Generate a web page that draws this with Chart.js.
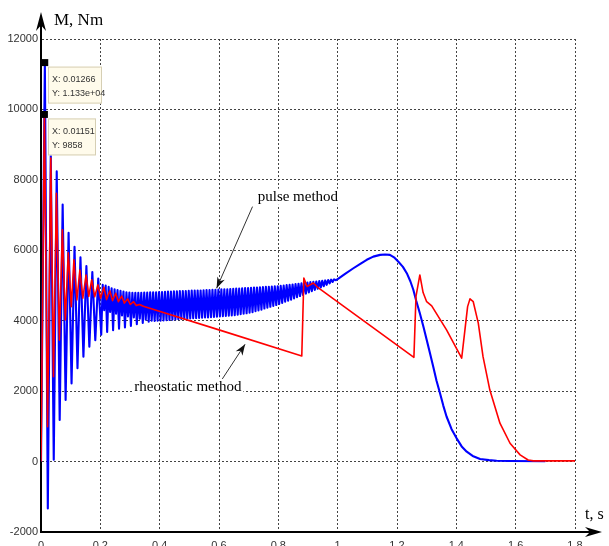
<!DOCTYPE html>
<html>
<head>
<meta charset="utf-8">
<script src="https://cdn.jsdelivr.net/npm/chart.js@4.4.1/dist/chart.umd.min.js"></script>
<style>
  html, body { margin: 0; padding: 0; background: #fff; }
  canvas { display: block; }
</style>
</head>
<body>
<canvas id="grafica" width="609" height="546"></canvas>
<script>
// time axis (s) and torque axis (N·m)
const tTicks = [0, 0.2, 0.4, 0.6, 0.8, 1, 1.2, 1.4, 1.6, 1.8];
const tLabels = ["0", "0.2", "0.4", "0.6", "0.8", "1", "1.2", "1.4", "1.6", "1.8"];
const mTicks = [-2000, 0, 2000, 4000, 6000, 8000, 10000, 12000];
const mLabels = ["-2000", "0", "2000", "4000", "6000", "8000", "10000", "12000"];

// pulse method, [t, M]
const pulse = [
  [0, 0], [0.013, 11330], [0.023, -1330], [0.033, 8700], [0.043, 50],
  [0.053, 8240], [0.063, 1180], [0.073, 7300], [0.083, 1750], [0.093, 6500],
  [0.103, 2220], [0.113, 6100], [0.123, 2650], [0.133, 5800], [0.143, 2980],
  [0.153, 5550], [0.163, 3260], [0.173, 5380], [0.183, 3450], [0.193, 5200],
  [0.203, 3600], [0.208, 5020], [0.213, 4300], [0.218, 5000], [0.223, 3680],
  [0.228, 4960], [0.233, 4250], [0.238, 4920], [0.243, 3730], [0.248, 4890],
  [0.253, 4200], [0.258, 4870], [0.263, 3770], [0.268, 4850], [0.273, 4150],
  [0.278, 4830], [0.283, 3810], [0.288, 4810], [0.293, 4120], [0.298, 4800],
  [0.303, 3850], [0.308, 4790], [0.313, 4090], [0.318, 4790], [0.323, 3900],
  [0.328, 4790], [0.333, 4060], [0.338, 4795], [0.343, 3940], [0.348, 4800],
  [0.353, 4030], [0.358, 4800], [0.363, 3970], [0.368, 4805], [0.373, 4000],
  [0.378, 4805], [0.383, 3990], [0.388, 4810], [0.393, 4000], [0.398, 4815],
  [0.403, 4000], [0.408, 4815], [0.413, 4010], [0.418, 4820], [0.423, 4015],
  [0.428, 4825], [0.433, 4020], [0.438, 4830], [0.443, 4030], [0.448, 4835],
  [0.453, 4035], [0.458, 4835], [0.463, 4040], [0.468, 4840], [0.473, 4050],
  [0.478, 4845], [0.483, 4055], [0.488, 4845], [0.493, 4060], [0.498, 4850],
  [0.503, 4065], [0.508, 4855], [0.513, 4070], [0.518, 4855], [0.523, 4075],
  [0.528, 4860], [0.533, 4080], [0.538, 4860], [0.543, 4085], [0.548, 4865],
  [0.553, 4090], [0.558, 4870], [0.563, 4095], [0.568, 4870], [0.573, 4100],
  [0.578, 4875], [0.583, 4110], [0.588, 4880], [0.593, 4115], [0.598, 4885],
  [0.603, 4120], [0.608, 4890], [0.613, 4125], [0.618, 4895], [0.623, 4135],
  [0.628, 4895], [0.633, 4145], [0.638, 4900], [0.643, 4150], [0.648, 4905],
  [0.653, 4160], [0.658, 4910], [0.663, 4170], [0.668, 4915], [0.673, 4185],
  [0.678, 4920], [0.683, 4200], [0.688, 4925], [0.693, 4210], [0.698, 4930],
  [0.703, 4225], [0.708, 4935], [0.713, 4245], [0.718, 4940], [0.723, 4270],
  [0.728, 4945], [0.733, 4290], [0.738, 4950], [0.743, 4315], [0.748, 4955],
  [0.753, 4345], [0.758, 4960], [0.763, 4370], [0.768, 4965], [0.773, 4395],
  [0.778, 4970], [0.783, 4420], [0.788, 4975], [0.793, 4445], [0.798, 4980],
  [0.803, 4475], [0.808, 4990], [0.813, 4505], [0.818, 5000], [0.823, 4540],
  [0.828, 5010], [0.833, 4570], [0.838, 5020], [0.843, 4600], [0.848, 5030],
  [0.853, 4635], [0.858, 5040], [0.863, 4670], [0.868, 5050], [0.873, 4700],
  [0.878, 5060], [0.883, 4735], [0.888, 5075], [0.893, 4770], [0.898, 5085],
  [0.903, 4805], [0.908, 5095], [0.913, 4840], [0.918, 5105], [0.923, 4875],
  [0.928, 5115], [0.933, 4910], [0.938, 5125], [0.943, 4945], [0.948, 5135],
  [0.953, 4980], [0.958, 5145], [0.963, 5020], [0.968, 5155], [0.973, 5060],
  [0.978, 5165], [0.983, 5100], [0.988, 5175], [0.993, 5150],
  [1.0, 5180], [1.025, 5330], [1.053, 5490], [1.075, 5610], [1.098, 5730],
  [1.12, 5820], [1.143, 5870], [1.16, 5880], [1.176, 5870], [1.19, 5800],
  [1.204, 5680], [1.22, 5530], [1.233, 5350], [1.245, 5120], [1.255, 4880],
  [1.265, 4560], [1.277, 4210], [1.29, 3800], [1.3, 3460], [1.311, 3080],
  [1.322, 2700], [1.333, 2300], [1.345, 1940], [1.356, 1590], [1.367, 1280],
  [1.384, 920], [1.401, 660], [1.418, 430], [1.435, 280], [1.455, 160],
  [1.48, 75], [1.51, 40], [1.536, 25], [1.58, 15], [1.7, 10]
];

// rheostatic method, [t, M]
const rheostatic = [
  [0, 0], [0.0115, 9858], [0.022, 990], [0.033, 8620], [0.042, 2410],
  [0.052, 7620], [0.062, 3450], [0.072, 6580], [0.082, 4020], [0.092, 5930],
  [0.102, 4400], [0.111, 5730], [0.121, 4590], [0.131, 5440], [0.141, 4640],
  [0.152, 5300], [0.161, 4690], [0.171, 5160], [0.181, 4680], [0.192, 5020],
  [0.201, 4640], [0.212, 4950], [0.221, 4600], [0.232, 4850], [0.241, 4570],
  [0.252, 4780], [0.261, 4540], [0.272, 4700], [0.281, 4500], [0.292, 4620],
  [0.301, 4460], [0.312, 4540], [0.321, 4430], [0.332, 4460], [0.345, 4410],
  [0.6, 3740], [0.879, 3000], [0.886, 5210], [0.897, 4970], [0.918, 5070],
  [0.935, 4930], [1.257, 2960], [1.264, 4690], [1.277, 5300], [1.288, 4800],
  [1.3, 4540], [1.317, 4420], [1.367, 3740], [1.418, 2935], [1.429, 3740],
  [1.438, 4400], [1.446, 4620], [1.457, 4540], [1.474, 3930], [1.49, 2980],
  [1.513, 2030], [1.547, 1090], [1.581, 520], [1.615, 190], [1.642, 45],
  [1.66, 20], [1.8, 20]
];

// data tips: [t, M, line1, line2]
const dataTips = [
  [0.01266, 11330, "X: 0.01266", "Y: 1.133e+04"],
  [0.01151, 9858, "X: 0.01151", "Y: 9858"]
];

// labels with arrows: text, text position, arrow tail, arrow tip (data units)
const notes = [
  { text: "pulse method", at: [0.866, 7520], from: [0.713, 7240], to: [0.592, 4923] },
  { text: "rheostatic method", at: [0.495, 2119], from: [0.609, 2318], to: [0.688, 3332] }
];

const toXY = pts => pts.map(([t, m]) => ({ x: t, y: m }));

function arrowHead(ctx, x, y, angle, len, half) {
  ctx.save();
  ctx.translate(x, y);
  ctx.rotate(angle);
  ctx.beginPath();
  ctx.moveTo(0, 0);
  ctx.lineTo(-len, -half);
  ctx.lineTo(-len * 0.7, 0);
  ctx.lineTo(-len, half);
  ctx.closePath();
  ctx.fill();
  ctx.restore();
}

const extras = {
  id: "extras",
  afterDraw(chart) {
    const { ctx, chartArea: a, scales: { x, y } } = chart;
    ctx.save();

    // axis extensions and arrows
    ctx.strokeStyle = "#000";
    ctx.fillStyle = "#000";
    ctx.lineWidth = 2;
    ctx.beginPath();
    ctx.moveTo(a.left, a.top);
    ctx.lineTo(a.left, 22);
    ctx.moveTo(a.right, a.bottom);
    ctx.lineTo(594, a.bottom);
    ctx.stroke();
    arrowHead(ctx, a.left, 12, -Math.PI / 2, 19, 5);
    arrowHead(ctx, 602, a.bottom, 0, 17, 5);

    // axis names
    ctx.font = "17px 'Liberation Serif', serif";
    ctx.textBaseline = "alphabetic";
    ctx.textAlign = "left";
    ctx.fillText("M, Nm", 54, 25);
    ctx.font = "16px 'Liberation Serif', serif";
    ctx.fillText("t, s", 585, 519);

    // data tips
    dataTips.forEach(([t, m, l1, l2], i) => {
      const px = x.getPixelForValue(t);
      const py = y.getPixelForValue(m);
      ctx.fillStyle = "#000";
      ctx.fillRect(px - 3.5, py - 3.5, 7, 7);
      const bx = 48, by = py + 4, bw = i === 0 ? 54 : 48, bh = 37;
      ctx.fillStyle = "#fffbeb";
      ctx.fillRect(bx, by, bw, bh);
      ctx.strokeStyle = "#d6cfb4";
      ctx.lineWidth = 1;
      ctx.strokeRect(bx + 0.5, by + 0.5, bw - 1, bh - 1);
      ctx.fillStyle = "#333";
      ctx.font = "9px 'Liberation Sans', Arial, sans-serif";
      ctx.textBaseline = "middle";
      ctx.fillText(l1, bx + 4, by + 13);
      ctx.fillText(l2, bx + 4, by + 27);
    });

    // annotations
    notes.forEach(n => {
      const tx = x.getPixelForValue(n.at[0]);
      const ty = y.getPixelForValue(n.at[1]);
      const fx = x.getPixelForValue(n.from[0]);
      const fy = y.getPixelForValue(n.from[1]);
      const ex = x.getPixelForValue(n.to[0]);
      const ey = y.getPixelForValue(n.to[1]);
      ctx.strokeStyle = "#333";
      ctx.fillStyle = "#111";
      ctx.lineWidth = 1;
      ctx.beginPath();
      ctx.moveTo(fx, fy);
      ctx.lineTo(ex, ey);
      ctx.stroke();
      arrowHead(ctx, ex, ey, Math.atan2(ey - fy, ex - fx), 11, 4);
      ctx.fillStyle = "#fff";
      ctx.font = "15px 'Liberation Serif', serif";
      const w = ctx.measureText(n.text).width;
      ctx.fillRect(tx - w / 2 - 2, ty - 8, w + 4, 16);
      ctx.fillStyle = "#000";
      ctx.textAlign = "center";
      ctx.textBaseline = "middle";
      ctx.fillText(n.text, tx, ty);
      ctx.textAlign = "left";
    });

    ctx.restore();
  }
};

new Chart(document.getElementById("grafica").getContext("2d"), {
  type: "line",
  data: {
    datasets: [
      {
        label: "rheostatic method",
        data: toXY(rheostatic),
        borderColor: "#ff0000",
        borderWidth: 1.6,
        borderJoinStyle: "round",
        pointRadius: 0,
        tension: 0
      },
      {
        label: "pulse method",
        data: toXY(pulse),
        borderColor: "#0000ff",
        borderWidth: 2.1,
        borderJoinStyle: "round",
        pointRadius: 0,
        tension: 0
      }
    ]
  },
  options: {
    responsive: false,
    animation: false,
    devicePixelRatio: 1,
    layout: { padding: { top: 39, right: 34, left: 0, bottom: 0 } },
    scales: {
      x: {
        type: "linear",
        min: 0,
        max: 1.8,
        afterBuildTicks: s => { s.ticks = tTicks.map(v => ({ value: v })); },
        afterFit: s => { s.height = 14; },
        ticks: {
          padding: 7,
          maxRotation: 0,
          autoSkip: false,
          color: "#333",
          font: { family: "'Liberation Sans', Arial, sans-serif", size: 11 },
          callback: v => tLabels[tTicks.indexOf(v)]
        },
        grid: { color: "#444", lineWidth: 1, drawTicks: false },
        border: { display: true, color: "#000", width: 2, dash: [2, 2] }
      },
      y: {
        min: -2000,
        max: 12000,
        afterBuildTicks: s => { s.ticks = mTicks.map(v => ({ value: v })); },
        afterFit: s => { s.width = 41; },
        ticks: {
          padding: 3,
          autoSkip: false,
          color: "#333",
          font: { family: "'Liberation Sans', Arial, sans-serif", size: 11 },
          callback: v => mLabels[mTicks.indexOf(v)]
        },
        grid: { color: "#444", lineWidth: 1, drawTicks: false },
        border: { display: true, color: "#000", width: 2, dash: [2, 2] }
      }
    },
    plugins: {
      legend: { display: false },
      tooltip: { enabled: false }
    }
  },
  plugins: [extras]
});
</script>
</body>
</html>
